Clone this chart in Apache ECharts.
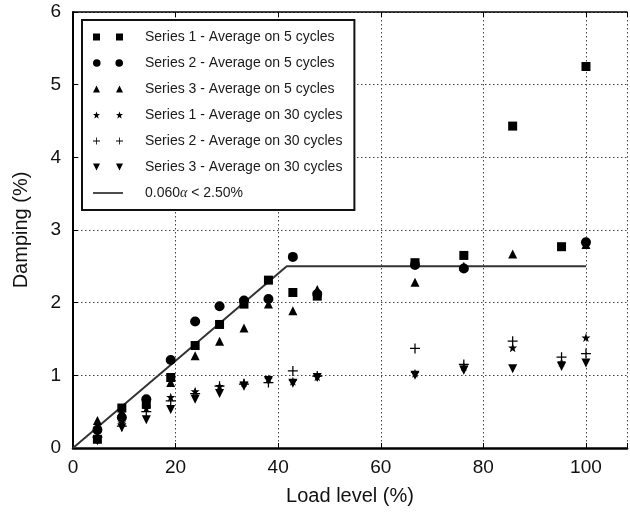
<!DOCTYPE html>
<html>
<head>
<meta charset="utf-8">
<script src="https://cdn.jsdelivr.net/npm/echarts@6/dist/echarts.min.js"></script>
<style>
  html, body { margin: 0; padding: 0; background: #fff; }
  #chart { width: 630px; height: 519px; }
</style>
</head>
<body>
<div id="chart"></div>
<script>
// Load levels (%) at which damping was measured
const loadLevels = [4.76, 9.52, 14.29, 19.05, 23.81, 28.57, 33.33, 38.10, 42.86, 47.62, 66.67, 76.19, 85.71, 95.24, 100];

// Damping (%) averaged over 5 cycles
const s1Avg5 = [0.12, 0.55, 0.60, 0.97, 1.41, 1.70, 1.98, 2.31, 2.14, 2.09, 2.55, 2.65, 4.43, 2.77, 5.25];
const s2Avg5 = [0.25, 0.42, 0.67, 1.21, 1.74, 1.95, 2.03, 2.05, 2.63, 2.12, 2.52, 2.47, null, null, 2.83];
const s3Avg5 = [0.38, 0.50, 0.63, 0.90, 1.27, 1.47, 1.65, 1.98, 1.89, 2.18, 2.28, 2.50, 2.67, null, 2.80];

// Damping (%) averaged over 30 cycles
const s1Avg30 = [0.20, 0.35, 0.55, 0.70, 0.78, 0.85, 0.90, 0.95, 0.92, 0.98, 1.03, 1.12, 1.38, 1.18, 1.52];
const s2Avg30 = [0.15, 0.30, 0.50, 0.65, 0.75, 0.85, 0.88, 0.90, 1.06, 0.99, 1.37, 1.15, 1.47, 1.25, 1.30];
const s3Avg30 = [0.10, 0.28, 0.39, 0.53, 0.67, 0.75, 0.85, 0.93, 0.89, 0.97, 1.00, 1.07, 1.09, 1.12, 1.17];

// Design line: 0.060·α capped at 2.50 %
const designX = [0, 41.67, 100];
const designY = [0, 2.5, 2.5];

const xTicks = [0, 20, 40, 60, 80, 100];
const yTicks = [0, 1, 2, 3, 4, 5, 6];

const seriesNames = [
  'Series 1 - Average on 5 cycles',
  'Series 2 - Average on 5 cycles',
  'Series 3 - Average on 5 cycles',
  'Series 1 - Average on 30 cycles',
  'Series 2 - Average on 30 cycles',
  'Series 3 - Average on 30 cycles',
  '0.060α < 2.50%'
];

// Marker shapes
const STAR = 'path://M4,0L5,3L8,3L5.6,5L6.5,8L4,6.2L1.5,8L2.4,5L0,3L3,3Z';
const PLUS = 'path://M3.5,0H4.5V8H3.5Z M0,3.5H8V4.5H0Z';
const DOWN = 'path://M0,0H8L4,7Z';

// Legend icons: a pair of markers per entry
const legendIcons = [
  'path://M0,0.5h7v7h-7z M23,0.5h7v7h-7z',
  'path://M0,4a3.8,3.8 0 1,0 7.6,0a3.8,3.8 0 1,0 -7.6,0z M22.4,4a3.8,3.8 0 1,0 7.6,0a3.8,3.8 0 1,0 -7.6,0z',
  'path://M3.5,0.5L7,7.5H0z M26.5,0.5L30,7.5H23z',
  'path://M3.5,0L4.4,2.7L7,2.7L4.9,4.4L5.7,7.2L3.5,5.5L1.3,7.2L2.1,4.4L0,2.7L2.6,2.7Z M26.5,0L27.4,2.7L30,2.7L27.9,4.4L28.7,7.2L26.5,5.5L24.3,7.2L25.1,4.4L23,2.7L25.6,2.7Z',
  'path://M3.1,0.5H3.9V7.5H3.1Z M0,3.6H7V4.4H0Z M26.1,0.5H26.9V7.5H26.1Z M23,3.6H30V4.4H23Z',
  'path://M0,0.5H7L3.5,7.5Z M23,0.5H30L26.5,7.5Z',
  'path://M0,3.3H30V4.7H0Z'
];

const ink = '#000';

function pairs(ys) {
  return loadLevels.map((x, i) => [x, ys[i]]).filter(p => p[1] !== null);
}

function scatter(name, ys, symbol, size) {
  return {
    name: name,
    type: 'scatter',
    data: pairs(ys),
    symbol: symbol,
    symbolSize: size,
    itemStyle: { color: ink, opacity: 1 },
    z: 3,
    silent: true
  };
}

const chart = echarts.init(document.getElementById('chart'), null, { renderer: 'canvas' });

const gridLine = { show: true, lineStyle: { color: '#444', type: [1.5, 2.5], width: 1 } };
const labelFont = { fontFamily: 'Liberation Sans, Arial, sans-serif', fontSize: 19, color: '#111' };

chart.setOption({
  animation: false,
  backgroundColor: '#fff',
  grid: { left: 73, top: 12, bottom: 71, right: 2, containLabel: false },
  legend: {
    orient: 'vertical',
    left: 82,
    top: 20,
    padding: [9, 12, 9, 11],
    borderColor: '#111',
    borderWidth: 2,
    backgroundColor: '#fff',
    itemWidth: 30,
    itemHeight: 9,
    itemGap: 10,
    selectedMode: false,
    inactiveColor: ink,
    textStyle: {
      fontFamily: 'Liberation Sans, Arial, sans-serif',
      fontSize: 14,
      color: '#1a1a1a',
      lineHeight: 16,
      padding: [0, 0, 0, 17],
      rich: { i: { fontStyle: 'italic', fontSize: 14, fontFamily: 'Liberation Serif, serif', color: '#1a1a1a' } }
    },
    formatter: function (name) {
      return name === seriesNames[6] ? '0.060{i|α} < 2.50%' : name;
    },
    data: seriesNames.map((n, i) => ({ name: n, icon: legendIcons[i], itemStyle: { color: ink, opacity: 1 } })),
    z: 10
  },
  xAxis: [
    {
      type: 'value',
      min: 0,
      max: 108,
      interval: 20,
      position: 'bottom',
      name: 'Load level (%)',
      nameLocation: 'middle',
      nameGap: 38,
      nameTextStyle: { fontFamily: 'Liberation Sans, Arial, sans-serif', fontSize: 20, color: '#111' },
      axisLine: { show: true, onZero: false, lineStyle: { color: '#000', width: 2.5 } },
      axisTick: { show: true, inside: true, length: 5, lineStyle: { color: '#000' } },
      axisLabel: Object.assign({ margin: 10, formatter: v => (xTicks.includes(v) ? String(v) : '') }, labelFont),
      splitLine: gridLine
    },
    {
      type: 'value',
      min: 0,
      max: 108,
      interval: 20,
      position: 'top',
      axisLine: { show: true, onZero: false, lineStyle: { color: '#000', width: 1.5 } },
      axisTick: { show: true, inside: true, length: 5, lineStyle: { color: '#000' } },
      axisLabel: { show: false },
      splitLine: { show: false }
    }
  ],
  yAxis: {
    type: 'value',
    min: 0,
    max: 6,
    interval: 1,
    name: 'Damping (%)',
    nameLocation: 'middle',
    nameGap: 42,
    nameTextStyle: { fontFamily: 'Liberation Sans, Arial, sans-serif', fontSize: 20, color: '#111' },
    axisLine: { show: true, onZero: false, lineStyle: { color: '#000', width: 2 } },
    axisTick: { show: true, inside: true, length: 5, lineStyle: { color: '#000' } },
    axisLabel: Object.assign({ margin: 12, formatter: v => (yTicks.includes(v) ? String(v) : '') }, labelFont),
    splitLine: gridLine
  },
  series: [
    scatter(seriesNames[0], s1Avg5, 'rect', 9),
    scatter(seriesNames[1], s2Avg5, 'circle', 10),
    scatter(seriesNames[2], s3Avg5, 'triangle', 9),
    scatter(seriesNames[3], s1Avg30, STAR, 9),
    scatter(seriesNames[4], s2Avg30, PLUS, 10),
    scatter(seriesNames[5], s3Avg30, DOWN, 9),
    {
      name: seriesNames[6],
      type: 'line',
      data: designX.map((x, i) => [x, designY[i]]),
      symbol: 'none',
      lineStyle: { color: '#333', width: 2 },
      itemStyle: { color: '#333' },
      z: 2,
      silent: true
    }
  ]
});
</script>
</body>
</html>
